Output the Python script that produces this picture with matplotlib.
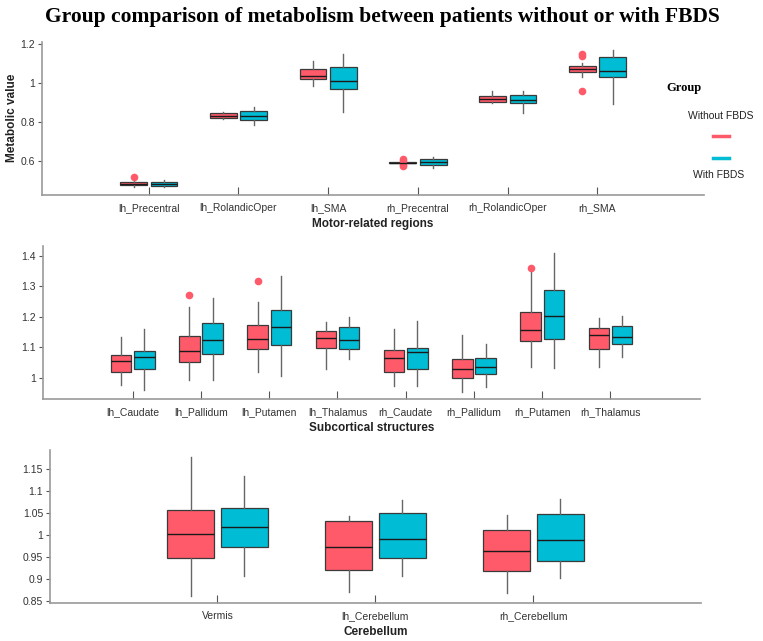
"""Boxplots of regional metabolism, patients without vs with FBDS."""

import matplotlib

matplotlib.use("Agg")

import matplotlib.pyplot as plt
from matplotlib.lines import Line2D
from matplotlib.ticker import FuncFormatter


RED = "#FF5A69"
BLUE = "#00BCD4"

# each box: (whisker low, q1, median, q3, whisker high)
MOTOR_REGIONS = ["lh_Precentral", "lh_RolandicOper", "lh_SMA",
                 "rh_Precentral", "rh_RolandicOper", "rh_SMA"]
MOTOR_WITHOUT = [
    (0.463, 0.475, 0.482, 0.490, 0.497),
    (0.813, 0.818, 0.830, 0.843, 0.847),
    (0.980, 1.020, 1.032, 1.071, 1.113),
    (0.588, 0.588, 0.590, 0.592, 0.592),
    (0.895, 0.900, 0.917, 0.931, 0.958),
    (1.027, 1.053, 1.070, 1.087, 1.100),
]
MOTOR_WITHOUT_FLIERS = [[0.518], [], [], [0.606, 0.600, 0.578, 0.570], [], [1.149, 1.135, 0.955]]
MOTOR_WITH = [
    (0.466, 0.470, 0.480, 0.489, 0.500),
    (0.780, 0.807, 0.831, 0.855, 0.874),
    (0.849, 0.965, 1.008, 1.082, 1.149),
    (0.560, 0.579, 0.593, 0.607, 0.619),
    (0.843, 0.893, 0.910, 0.936, 0.958),
    (0.890, 1.027, 1.061, 1.131, 1.169),
]

SUBCORTICAL_REGIONS = ["lh_Caudate", "lh_Pallidum", "lh_Putamen", "lh_Thalamus",
                       "rh_Caudate", "rh_Pallidum", "rh_Putamen", "rh_Thalamus"]
SUBCORTICAL_WITHOUT = [
    (0.976, 1.020, 1.054, 1.076, 1.133),
    (0.992, 1.052, 1.088, 1.137, 1.232),
    (1.021, 1.095, 1.127, 1.172, 1.249),
    (1.028, 1.098, 1.130, 1.155, 1.183),
    (0.973, 1.018, 1.065, 1.090, 1.161),
    (0.954, 0.999, 1.029, 1.062, 1.141),
    (1.036, 1.120, 1.158, 1.214, 1.348),
    (1.035, 1.096, 1.140, 1.164, 1.196),
]
SUBCORTICAL_WITHOUT_FLIERS = [[], [1.270], [1.317], [], [], [], [1.358], []]
SUBCORTICAL_WITH = [
    (0.962, 1.029, 1.068, 1.087, 1.161),
    (0.994, 1.078, 1.124, 1.178, 1.262),
    (1.005, 1.108, 1.168, 1.221, 1.333),
    (1.061, 1.095, 1.124, 1.165, 1.200),
    (0.973, 1.029, 1.085, 1.098, 1.187),
    (0.970, 1.012, 1.036, 1.066, 1.111),
    (1.033, 1.127, 1.203, 1.287, 1.408),
    (1.068, 1.110, 1.134, 1.170, 1.203),
]

CEREBELLUM_REGIONS = ["Vermis", "lh_Cerebellum", "rh_Cerebellum"]
CEREBELLUM_WITHOUT = [
    (0.862, 0.947, 1.001, 1.057, 1.176),
    (0.871, 0.920, 0.972, 1.031, 1.043),
    (0.867, 0.917, 0.963, 1.011, 1.045),
]
CEREBELLUM_WITH = [
    (0.907, 0.972, 1.017, 1.061, 1.134),
    (0.907, 0.947, 0.990, 1.050, 1.079),
    (0.903, 0.940, 0.987, 1.046, 1.081),
]

PANELS = [
    ("Motor-related regions", MOTOR_REGIONS, MOTOR_WITHOUT, MOTOR_WITHOUT_FLIERS, MOTOR_WITH,
     [0.6, 0.8, 1.0, 1.2], (0.424, 1.21), [0.055, 0.696, 0.868, 0.239]),
    ("Subcortical structures", SUBCORTICAL_REGIONS, SUBCORTICAL_WITHOUT, SUBCORTICAL_WITHOUT_FLIERS,
     SUBCORTICAL_WITH, [1.0, 1.1, 1.2, 1.3, 1.4], (0.931, 1.432), [0.056, 0.3775, 0.862, 0.239]),
    ("Cerebellum", CEREBELLUM_REGIONS, CEREBELLUM_WITHOUT, [[] for _ in CEREBELLUM_REGIONS],
     CEREBELLUM_WITH, [0.85, 0.9, 0.95, 1.0, 1.05, 1.1, 1.15], (0.846, 1.192),
     [0.0655, 0.0598, 0.853, 0.238]),
]

DODGE = 0.17
WIDTH = 0.3
# empty room left/right of the outer categories, in category units
SIDE_PAD = {6: 1.19, 8: 1.318, 3: 1.06}


def make_stats(boxes, fliers):
    stats = []
    for (lo, q1, med, q3, hi), fl in zip(boxes, fliers):
        stats.append({"whislo": lo, "q1": q1, "med": med, "q3": q3, "whishi": hi, "fliers": fl})
    return stats


def draw_group(ax, stats, positions, color):
    ax.bxp(
        stats,
        positions=positions,
        widths=WIDTH,
        patch_artist=True,
        showcaps=False,
        boxprops=dict(facecolor=color, edgecolor="#3a3a3a", linewidth=0.9),
        medianprops=dict(color="#1a1a1a", linewidth=1.0),
        whiskerprops=dict(color="#666666", linewidth=1.0),
        flierprops=dict(marker="o", markerfacecolor=color, markeredgecolor="none", markersize=5.5),
        manage_ticks=False,
    )


def main():
    plt.rcParams["font.family"] = ["Liberation Sans", "DejaVu Sans"]
    fig = plt.figure(figsize=(7.63, 6.41), dpi=100)
    fmt = FuncFormatter(lambda v, _: f"{v:g}")

    for i, (xlabel, regions, without, without_fl, with_, yticks, ylim, rect) in enumerate(PANELS):
        ax = fig.add_axes(rect)
        n = len(regions)
        centers = list(range(1, n + 1))
        draw_group(ax, make_stats(without, without_fl), [c - DODGE for c in centers], RED)
        draw_group(ax, make_stats(with_, [[] for _ in with_]), [c + DODGE for c in centers], BLUE)

        span = SIDE_PAD[n]
        ax.set_xlim(1 - span, n + span)
        ax.set_ylim(*ylim)
        ax.set_xticks(centers)
        ax.set_xticklabels(regions)
        ax.set_yticks(yticks)
        ax.yaxis.set_major_formatter(fmt)
        for side in ("top", "right"):
            ax.spines[side].set_visible(False)
        for side in ("left", "bottom"):
            ax.spines[side].set_color("#9a9a9a")
            ax.spines[side].set_linewidth(1.2)
        ax.tick_params(axis="x", direction="in", length=6, color="#555555", labelsize=7.5,
                       labelcolor="#333333", pad=6)
        ax.tick_params(axis="y", direction="out", length=3, color="#555555", labelsize=7.5,
                       labelcolor="#333333", pad=2)
        ax.set_xlabel(xlabel, fontsize=8.5, fontweight="bold", color="#222222", labelpad=3.5)
        if i == 0:
            ax.set_ylabel("Metabolic value", fontsize=8.5, fontweight="bold", color="#222222")
            ax.yaxis.set_label_coords(-0.036, 0.5)

    fig.text(0.501, 0.974, "Group comparison of metabolism between patients without or with FBDS",
             ha="center", va="center", fontsize=15.5, fontweight="bold", family="Liberation Serif")

    # legend drawn by hand: label, key, key, label
    fig.text(684 / 763, 1 - 88 / 641, "Group", ha="center", va="center", fontsize=9,
             fontweight="bold", family="Liberation Serif")
    fig.text(721 / 763, 1 - 116 / 641, "Without FBDS", ha="center", va="center", fontsize=7.5,
             color="#222222")
    fig.text(719 / 763, 1 - 175 / 641, "With FBDS", ha="center", va="center", fontsize=7.5,
             color="#222222")
    for y, color in ((136, RED), (158, BLUE)):
        fig.add_artist(Line2D([713 / 763, 729 / 763], [1 - y / 641, 1 - y / 641],
                              color=color, linewidth=2.5, transform=fig.transFigure))

    fig.savefig("out.png", dpi=100, facecolor="white")


if __name__ == "__main__":
    main()
